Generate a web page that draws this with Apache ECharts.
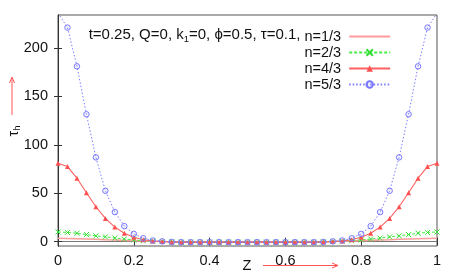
<!DOCTYPE html>
<html>
<head>
<meta charset="utf-8">
<script src="https://cdn.jsdelivr.net/npm/echarts@6/dist/echarts.min.js"></script>
<style>html,body{margin:0;padding:0;background:#fff}#c{width:464px;height:277px}</style>
</head>
<body>
<div id="c"></div>
<script>
var Z = [0,0.025,0.05,0.075,0.1,0.125,0.15,0.175,0.2,0.225,0.25,0.275,0.3,0.325,0.35,0.375,0.4,0.425,0.45,0.475,0.5,
         0.525,0.55,0.575,0.6,0.625,0.65,0.675,0.7,0.725,0.75,0.775,0.8,0.825,0.85,0.875,0.9,0.925,0.95,0.975,1];
var n13 = [3.5,3.3,3.0,2.7,2.4,2.0,1.7,1.3,1.0,0.7,0.4,0.2,-0.3,-0.5,-0.5,-0.5,-0.5,-0.5,-0.5,-0.5,-0.5,
           -0.5,-0.5,-0.5,-0.5,-0.5,-0.5,-0.5,-0.3,0.2,0.4,0.7,1.0,1.3,1.7,2.0,2.4,2.7,3.0,3.3,3.5];
var n23 = [10,9.5,8.7,7.3,6,4.9,3.7,2.7,1.8,1.0,0.5,0.2,-0.3,-0.5,-0.5,-0.5,-0.5,-0.5,-0.5,-0.5,-0.5,
           -0.5,-0.5,-0.5,-0.5,-0.5,-0.5,-0.5,-0.3,0.2,0.5,1.0,1.8,2.7,3.7,4.9,6,7.3,8.7,9.5,10];
var n43 = [81,77.5,65.5,50.5,36,24,15,8.7,4.5,2,0.6,0.1,-0.3,-0.5,-0.5,-0.5,-0.5,-0.5,-0.5,-0.5,-0.5,
           -0.5,-0.5,-0.5,-0.5,-0.5,-0.5,-0.5,-0.3,0.1,0.6,2,4.5,8.7,15,24,36,50.5,65.5,77.5,81];
var n53 = [236,221,181,131.5,87,52.5,30.5,16,8,3.5,1.2,0.3,-0.3,-0.5,-0.5,-0.5,-0.5,-0.5,-0.5,-0.5,-0.5,
           -0.5,-0.5,-0.5,-0.5,-0.5,-0.5,-0.5,-0.3,0.3,1.2,3.5,8,16,30.5,52.5,87,131.5,181,221,236];
var yTicks = [0,50,100,150,200];
var names = ['n=1/3','n=2/3','n=4/3','n=5/3'];

function pairs(ys){ return Z.map(function(z,i){ return [z, ys[i]]; }); }

var FONT = 'Liberation Sans, Arial, sans-serif';
var chart = echarts.init(document.getElementById('c'), null, {renderer:'canvas'});
var axisLineStyle = {color:'#333', width:1};
chart.setOption({
  animation:false,
  grid:{left:58, right:27, top:15, bottom:31, show:true, borderColor:'#555', borderWidth:1},
  xAxis:[{type:'value', min:0, max:1, interval:0.2, position:'bottom',
          axisLine:{show:true, lineStyle:axisLineStyle}, splitLine:{show:false},
          axisTick:{inside:true, length:4, lineStyle:{color:'#333'}},
          axisLabel:{fontFamily:FONT, fontSize:14.5, color:'#111', margin:7,
                     formatter:function(v){ return String(+v.toFixed(1)); }}},
         {type:'value', min:0, max:1, interval:0.2, position:'top',
          axisLine:{show:true, lineStyle:{color:'#777'}}, splitLine:{show:false},
          axisTick:{inside:true, length:4, lineStyle:{color:'#333'}}, axisLabel:{show:false}}],
  yAxis:[{type:'value', min:-4.5, max:234, position:'left',
          axisLine:{show:true, lineStyle:axisLineStyle}, splitLine:{show:false},
          axisTick:{inside:true, length:4, customValues:yTicks, lineStyle:{color:'#333'}},
          axisLabel:{fontFamily:FONT, fontSize:14.5, color:'#111', margin:10, customValues:yTicks}},
         {type:'value', min:-4.5, max:234, position:'right',
          axisLine:{show:true, lineStyle:axisLineStyle}, splitLine:{show:false},
          axisTick:{inside:true, length:4, customValues:yTicks, lineStyle:{color:'#333'}},
          axisLabel:{show:false}}],
  legend:{orient:'vertical', left:304.5, top:29, align:'right', itemWidth:41, itemHeight:8, itemGap:1, padding:0,
          textStyle:{fontFamily:FONT, fontSize:14.5, lineHeight:12, color:'#111', padding:[0,3,0,0]},
          data:[{name:names[0], itemStyle:{opacity:0}}, names[1], names[2], names[3]]},
  series:[
    {name:names[0], type:'line', data:pairs(n13), showSymbol:false, symbol:'none',
     lineStyle:{color:'#ff9c9c', width:1.6}, itemStyle:{color:'#ff9c9c'}},
    {name:names[1], type:'line', data:pairs(n23), symbol:'path://M0,0L10,10M10,0L0,10', symbolSize:5,
     lineStyle:{color:'#44ee44', width:1, type:[3,2]},
     itemStyle:{color:'#33dd33', borderColor:'#33dd33', borderWidth:1}},
    {name:names[2], type:'line', data:pairs(n43), symbol:'triangle', symbolSize:5,
     lineStyle:{color:'#ff6060', width:1.1}, itemStyle:{color:'#ff5050'}},
    {name:names[3], type:'line', data:pairs(n53), symbol:'circle', symbolSize:5.5,
     lineStyle:{color:'#7b7bff', width:1, type:[1.5,2]},
     itemStyle:{color:'rgba(120,120,255,0.08)', borderColor:'#7777ff', borderWidth:1}}
  ],
  graphic:[
    {type:'text', x:300.5, y:35, style:{text:'{a|t=0.25, Q=0, k}{s|1}{a|=0, ϕ=0.5, τ=0.1,}', align:'right', verticalAlign:'middle',
      rich:{a:{fontFamily:FONT, fontSize:15, fill:'#111'}, s:{fontFamily:FONT, fontSize:9.5, fill:'#111', padding:[8,0,0,0]}}}},
    {type:'text', x:14, y:131, rotation:Math.PI/2, style:{text:'{a|τ}{s|h}', align:'center', verticalAlign:'middle',
      rich:{a:{fontFamily:FONT, fontSize:14.5, fill:'#111'}, s:{fontFamily:FONT, fontSize:9.5, fill:'#111', padding:[7,0,0,0]}}}},
    {type:'line', shape:{x1:12, y1:115, x2:12, y2:78}, style:{stroke:'#ff5555', lineWidth:1}},
    {type:'polyline', shape:{points:[[9.5,83],[12,77],[14.5,83]]}, style:{stroke:'#ff5555', lineWidth:1, fill:null}},
    {type:'text', x:247, y:266, style:{text:'Z', align:'center', verticalAlign:'middle', fontFamily:FONT, fontSize:14.5, fill:'#111'}},
    {type:'line', shape:{x1:263, y1:265.5, x2:338, y2:265.5}, style:{stroke:'#ff5555', lineWidth:1}},
    {type:'polyline', shape:{points:[[332,263],[338,265.5],[332,268]]}, style:{stroke:'#ff5555', lineWidth:1, fill:null}}
  ]
});
</script>
</body>
</html>
